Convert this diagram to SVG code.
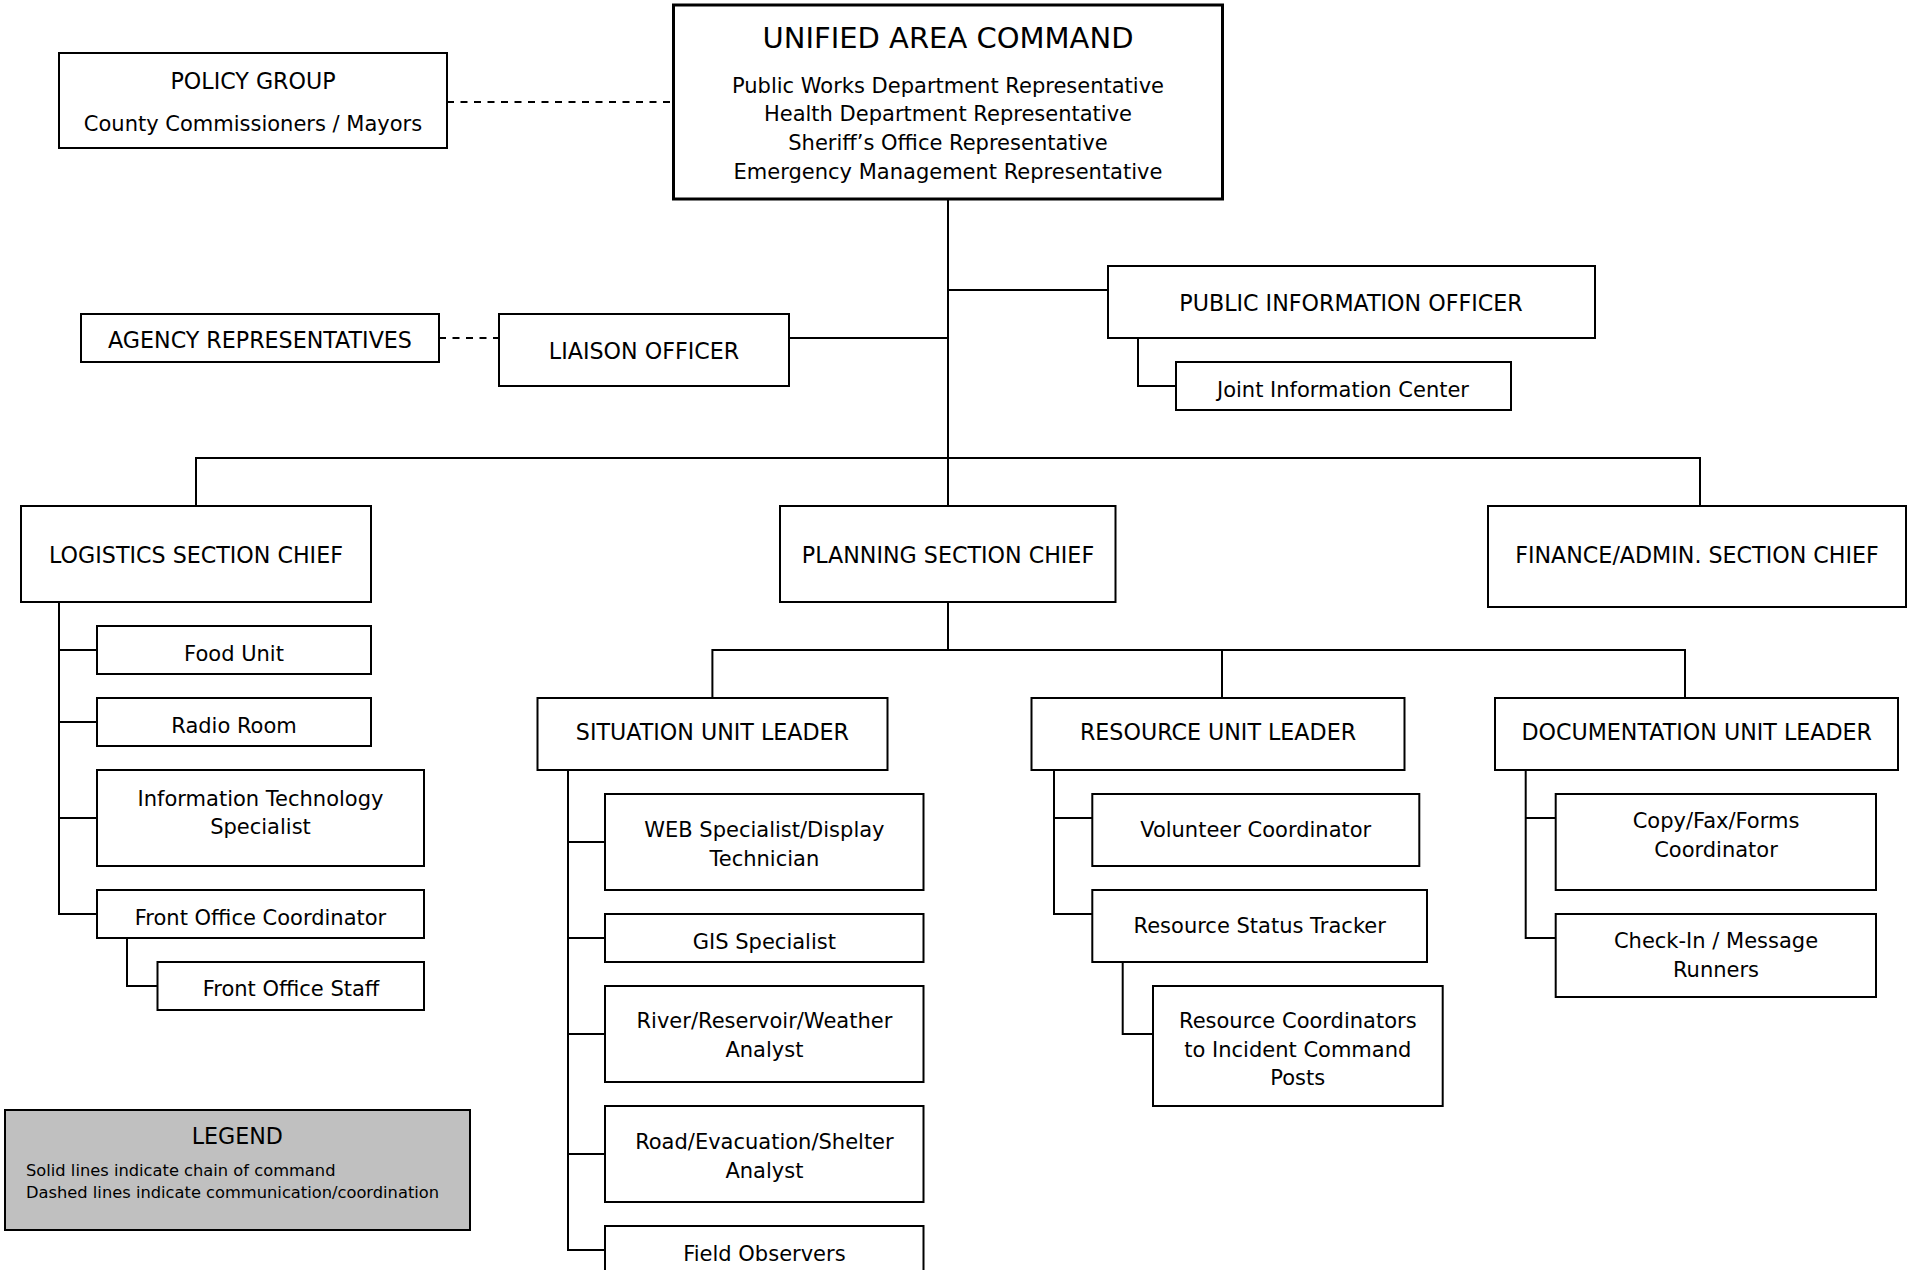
<svg xmlns="http://www.w3.org/2000/svg" width="1912" height="1270" viewBox="0 0 1912 1270">
<style>
.box{fill:#fff;stroke:#000;stroke-width:2}
.thick{stroke-width:3}
.leg-box{fill:#c0c0c0;stroke:#000;stroke-width:2}
.conn{fill:none;stroke:#000;stroke-width:2}
.dash{stroke-dasharray:7 6.5}
text{font-family:'DejaVu Sans',Verdana,sans-serif;fill:#000;text-anchor:middle}
.c{font-size:22.2px}
.t{font-size:21px}
.title{font-size:29px}
.leg{font-size:16.3px;text-anchor:start}
</style>
<rect width="1912" height="1270" fill="#fff"/>
<g id="connectors">
<path class="conn dash" d="M447 102H673.5"/>
<path class="conn dash" d="M439 338H499"/>
<path class="conn" d="M948 199V506"/>
<path class="conn" d="M948 290H1108"/>
<path class="conn" d="M789 338H948"/>
<path class="conn" d="M1138 338V386H1176"/>
<path class="conn" d="M196 506V458H1700V506"/>
<path class="conn" d="M948 602V650"/>
<path class="conn" d="M712.4 698V650H1685V698"/>
<path class="conn" d="M1222 650V698"/>
<path class="conn" d="M59 602V914H97"/>
<path class="conn" d="M59 650H97M59 722H97M59 818H97"/>
<path class="conn" d="M127 938V986H157.5"/>
<path class="conn" d="M568 770V1250H605"/>
<path class="conn" d="M568 842H605M568 938H605M568 1034H605M568 1154H605"/>
<path class="conn" d="M1054 770V914H1092.3"/>
<path class="conn" d="M1054 818H1092.3"/>
<path class="conn" d="M1122.7 962V1034H1153"/>
<path class="conn" d="M1525.7 770V938H1555.7"/>
<path class="conn" d="M1525.7 818H1555.7"/>
</g>
<g id="policy-group">
<rect class="box" x="59" y="53" width="388" height="95"/>
<text class="c" x="253" y="89.3">POLICY GROUP</text>
<text class="t" x="253" y="131">County Commissioners / Mayors</text>
</g>
<g id="unified-area-command">
<rect class="box thick" x="673.5" y="5" width="549" height="194"/>
<text class="title" x="948" y="48.3">UNIFIED AREA COMMAND</text>
<text class="t" x="948" y="92.7">Public Works Department Representative</text>
<text class="t" x="948" y="121.3">Health Department Representative</text>
<text class="t" x="948" y="150">Sheriff’s Office Representative</text>
<text class="t" x="948" y="179">Emergency Management Representative</text>
</g>
<g id="agency-representatives">
<rect class="box" x="81" y="314" width="358" height="48"/>
<text class="c" x="260" y="348.3">AGENCY REPRESENTATIVES</text>
</g>
<g id="liaison-officer">
<rect class="box" x="499" y="314" width="290" height="72"/>
<text class="c" x="644" y="359.3">LIAISON OFFICER</text>
</g>
<g id="public-information-officer">
<rect class="box" x="1108" y="266" width="487" height="72"/>
<text class="c" x="1351" y="311">PUBLIC INFORMATION OFFICER</text>
</g>
<g id="joint-information-center">
<rect class="box" x="1176" y="362" width="335" height="48"/>
<text class="t" x="1343" y="396.7">Joint Information Center</text>
</g>
<g id="logistics-section-chief">
<rect class="box" x="21" y="506" width="350" height="96"/>
<text class="c" x="196" y="563.2">LOGISTICS SECTION CHIEF</text>
</g>
<g id="planning-section-chief">
<rect class="box" x="780" y="506" width="335.5" height="96"/>
<text class="c" x="948" y="562.7">PLANNING SECTION CHIEF</text>
</g>
<g id="finance-admin-section-chief">
<rect class="box" x="1488" y="506" width="418" height="101"/>
<text class="c" x="1697" y="562.7">FINANCE/ADMIN. SECTION CHIEF</text>
</g>
<g id="food-unit">
<rect class="box" x="97" y="626" width="274" height="48"/>
<text class="t" x="234" y="661.2">Food Unit</text>
</g>
<g id="radio-room">
<rect class="box" x="97" y="698" width="274" height="48"/>
<text class="t" x="234" y="733">Radio Room</text>
</g>
<g id="it-specialist">
<rect class="box" x="97" y="770" width="327" height="96"/>
<text class="t" x="260.5" y="805.5">Information Technology</text>
<text class="t" x="260.5" y="834.2">Specialist</text>
</g>
<g id="front-office-coordinator">
<rect class="box" x="97" y="890" width="327" height="48"/>
<text class="t" x="260.5" y="925.3">Front Office Coordinator</text>
</g>
<g id="front-office-staff">
<rect class="box" x="157.5" y="962" width="266.5" height="48"/>
<text class="t" x="291" y="995.7">Front Office Staff</text>
</g>
<g id="situation-unit-leader">
<rect class="box" x="537.5" y="698" width="350" height="72"/>
<text class="c" x="712.4" y="740">SITUATION UNIT LEADER</text>
</g>
<g id="resource-unit-leader">
<rect class="box" x="1031.5" y="698" width="373" height="72"/>
<text class="c" x="1218" y="740">RESOURCE UNIT LEADER</text>
</g>
<g id="documentation-unit-leader">
<rect class="box" x="1495" y="698" width="403" height="72"/>
<text class="c" x="1696.7" y="740">DOCUMENTATION UNIT LEADER</text>
</g>
<g id="web-specialist">
<rect class="box" x="605" y="794" width="318.5" height="96"/>
<text class="t" x="764.4" y="836.7">WEB Specialist/Display</text>
<text class="t" x="764.4" y="866">Technician</text>
</g>
<g id="gis-specialist">
<rect class="box" x="605" y="914" width="318.5" height="48"/>
<text class="t" x="764.4" y="949">GIS Specialist</text>
</g>
<g id="river-analyst">
<rect class="box" x="605" y="986" width="318.5" height="96"/>
<text class="t" x="764.4" y="1028.3">River/Reservoir/Weather</text>
<text class="t" x="764.4" y="1056.7">Analyst</text>
</g>
<g id="road-analyst">
<rect class="box" x="605" y="1106" width="318.5" height="96"/>
<text class="t" x="764.4" y="1149.3">Road/Evacuation/Shelter</text>
<text class="t" x="764.4" y="1177.7">Analyst</text>
</g>
<g id="field-observers">
<rect class="box" x="605" y="1226" width="318.5" height="60"/>
<text class="t" x="764.4" y="1261">Field Observers</text>
</g>
<g id="volunteer-coordinator">
<rect class="box" x="1092.3" y="794" width="327" height="72"/>
<text class="t" x="1255.7" y="836.7">Volunteer Coordinator</text>
</g>
<g id="resource-status-tracker">
<rect class="box" x="1092.3" y="890" width="334.7" height="72"/>
<text class="t" x="1259.7" y="932.7">Resource Status Tracker</text>
</g>
<g id="resource-coordinators">
<rect class="box" x="1153" y="986" width="289.7" height="120"/>
<text class="t" x="1297.8" y="1028.3">Resource Coordinators</text>
<text class="t" x="1297.8" y="1056.7">to Incident Command</text>
<text class="t" x="1297.8" y="1085">Posts</text>
</g>
<g id="copy-fax-forms">
<rect class="box" x="1555.7" y="794" width="320.3" height="96"/>
<text class="t" x="1716" y="828.3">Copy/Fax/Forms</text>
<text class="t" x="1716" y="857.3">Coordinator</text>
</g>
<g id="check-in-runners">
<rect class="box" x="1555.7" y="914" width="320.3" height="83"/>
<text class="t" x="1716" y="948.3">Check-In / Message</text>
<text class="t" x="1716" y="977.3">Runners</text>
</g>
<g id="legend">
<rect class="leg-box" x="5" y="1110" width="465" height="120"/>
<text class="c" x="237.3" y="1144.3">LEGEND</text>
<text class="leg" x="26" y="1176">Solid lines indicate chain of command</text>
<text class="leg" x="26" y="1198.3">Dashed lines indicate communication/coordination</text>
</g>
</svg>
